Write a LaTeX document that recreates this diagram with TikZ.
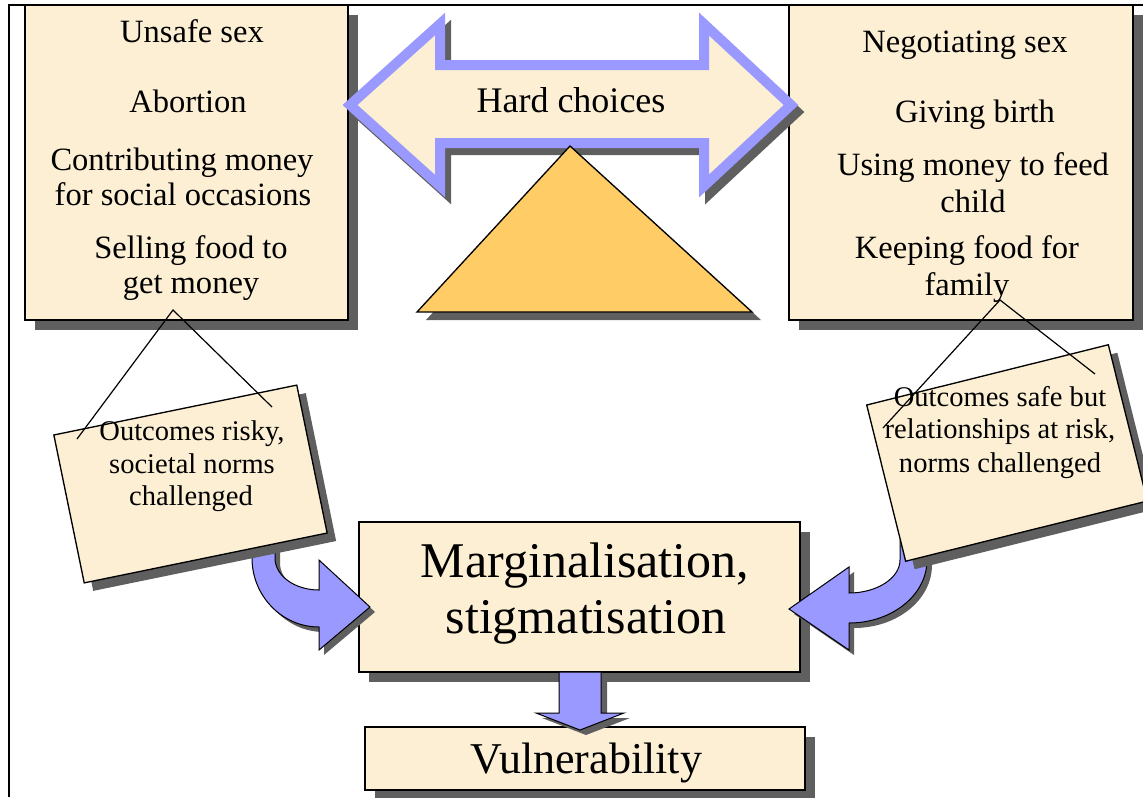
\documentclass[tikz,border=0pt]{standalone}
\usepackage{fontspec}
\setmainfont{Liberation Serif}
\usetikzlibrary{shadows}

\definecolor{cream}{RGB}{252,239,212}
\definecolor{shadowgray}{RGB}{95,95,95}
\definecolor{arrowblue}{RGB}{153,153,255}
\definecolor{wedge}{RGB}{255,204,102}

% block-arrow outlines (coordinates in pixel units)
\def\choicearrow{(350,105) -- (440,24) -- (440,65) -- (704,65) -- (704,24) -- (791,105) -- (704,186) -- (704,143) -- (440,143) -- (440,186) -- cycle}
\def\leftbend{(252,540) -- (252,558) .. controls (252,596) and (282,627) .. (319,627) -- (319,650) -- (370,607) -- (319,560) -- (319,590) .. controls (295,590) and (275,576) .. (275,558) -- (275,540) -- cycle}
\def\rightbend{(927,540) -- (927,560) .. controls (927,595) and (892,623) .. (849,623) -- (849,650) -- (789,609) -- (849,567) -- (849,593) .. controls (877,593) and (900,578) .. (900,560) -- (900,540) -- cycle}
\def\downpoint{(559,672) -- (601,672) -- (601,713) -- (624,713) -- (580,730) -- (536,713) -- (559,713) -- cycle}
\def\fulcrum{(570,146) -- (417,312) -- (752,312) -- cycle}

\begin{document}
\begin{tikzpicture}[x=0.75pt,y=-0.75pt,
  panel/.style={draw=black, line width=1pt, fill=cream, inner sep=0pt,
    drop shadow={shadow xshift=7.5pt, shadow yshift=-7.5pt, fill=shadowgray, opacity=1}},
  signboard/.style={draw=black, line width=1pt, fill=cream, inner sep=0pt},
  signshadow/.style={fill=shadowgray, inner sep=0pt},
  itemtext/.style={anchor=base, inner sep=0pt, font=\fontsize{24.4}{29}\selectfont},
  signtext/.style={anchor=base, inner sep=0pt, font=\fontsize{21.4}{25}\selectfont},
  blockarrow/.style={draw=black, line width=0.75pt, fill=arrowblue, line join=miter},
  hanger/.style={draw=black, line width=0.9pt}
]
\useasboundingbox (0,0) rectangle (1143,797);

% outer frame
\draw[line width=1.9pt] (9,797) -- (9,5) -- (1143,5);

% choice panels
\node[panel, minimum width=242.25pt, minimum height=236.25pt] (risky) at (186.5,162.5) {};
\node[panel, minimum width=258pt, minimum height=236.25pt] (safe) at (961,162.5) {};

\node[itemtext] (r1) at (192,42) {Unsafe sex};
\node[itemtext] (r2) at (188,112) {Abortion};
\node[itemtext] (r3) at (182,170) {Contributing money};
\node[itemtext] (r4) at (183,205) {for social occasions};
\node[itemtext] (r5) at (191,258) {Selling food to};
\node[itemtext] (r6) at (191,293) {get money};

\node[itemtext] (s1) at (965,52) {Negotiating sex};
\node[itemtext] (s2) at (975,122) {Giving birth};
\node[itemtext] (s3) at (973,175) {Using money to feed};
\node[itemtext] (s4) at (973,212) {child};
\node[itemtext] (s5) at (967,258) {Keeping food for};
\node[itemtext] (s6) at (967,295) {family};

% balance: double arrow on a fulcrum
\draw[shadowgray, fill=shadowgray, line width=7.5pt, line join=miter, shift={(6,7)}] \choicearrow;
\draw[arrowblue, fill=cream, line width=7.5pt, line join=miter] \choicearrow;
\node[anchor=base, inner sep=0pt, font=\fontsize{27}{32}\selectfont] (hard) at (571,112) {Hard choices};
\fill[shadowgray, shift={(9,8)}] \fulcrum;
\draw[fill=wedge, line width=1pt, line join=miter] \fulcrum;

% consequences
\node[panel, minimum width=330.75pt, minimum height=112.5pt] (marg) at (579.5,597) {};
\node[anchor=base, inner sep=0pt, font=\fontsize{37.5}{44}\selectfont] (m1) at (585,577) {Marginalisation,};
\node[anchor=base, inner sep=0pt, font=\fontsize{37.5}{44}\selectfont] (m2) at (586,633) {stigmatisation};

\node[panel, minimum width=330pt, minimum height=47.25pt] (vuln) at (585,758.5) {};
\node[anchor=base, inner sep=0pt, font=\fontsize{33}{38}\selectfont] (v1) at (586,773) {Vulnerability};

\fill[shadowgray, shift={(6,5)}] \downpoint;
\draw[blockarrow] \downpoint;

% bent arrows from the signs
\fill[shadowgray, shift={(5,5)}] \leftbend;
\draw[blockarrow] \leftbend;
\fill[shadowgray, shift={(5,5)}] \rightbend;
\draw[blockarrow] \rightbend;

% hanging signs
\node[signshadow, rotate=11.6, minimum width=186pt, minimum height=113.25pt] at (199.5,492) {};
\node[signboard, rotate=11.6, minimum width=186pt, minimum height=113.25pt] (lsign) at (190.5,484) {};
\node[signshadow, rotate=14, minimum width=186.75pt, minimum height=120.75pt] at (1016,461) {};
\node[signboard, rotate=14, minimum width=186.75pt, minimum height=120.75pt] (rsign) at (1007,453) {};

\node[signtext] (l1) at (192,440) {Outcomes risky,};
\node[signtext] (l2) at (192,473) {societal norms};
\node[signtext] (l3) at (191,505) {challenged};

\node[signtext] (k1) at (1000,406) {Outcomes safe but};
\node[signtext] (k2) at (1000,438) {relationships at risk,};
\node[signtext] (k3) at (1000,472) {norms challenged};

% hanging strings
\coordinate (lhook) at (173,310);
\coordinate (lpinA) at (77,439);
\coordinate (lpinB) at (272,407);
\draw[hanger] (lpinA) -- (lhook) -- (lpinB);
\coordinate (rhook) at (1000,300);
\coordinate (rpinA) at (883,428);
\coordinate (rpinB) at (1095,374);
\draw[hanger] (rpinA) -- (rhook) -- (rpinB);
\end{tikzpicture}
\end{document}
